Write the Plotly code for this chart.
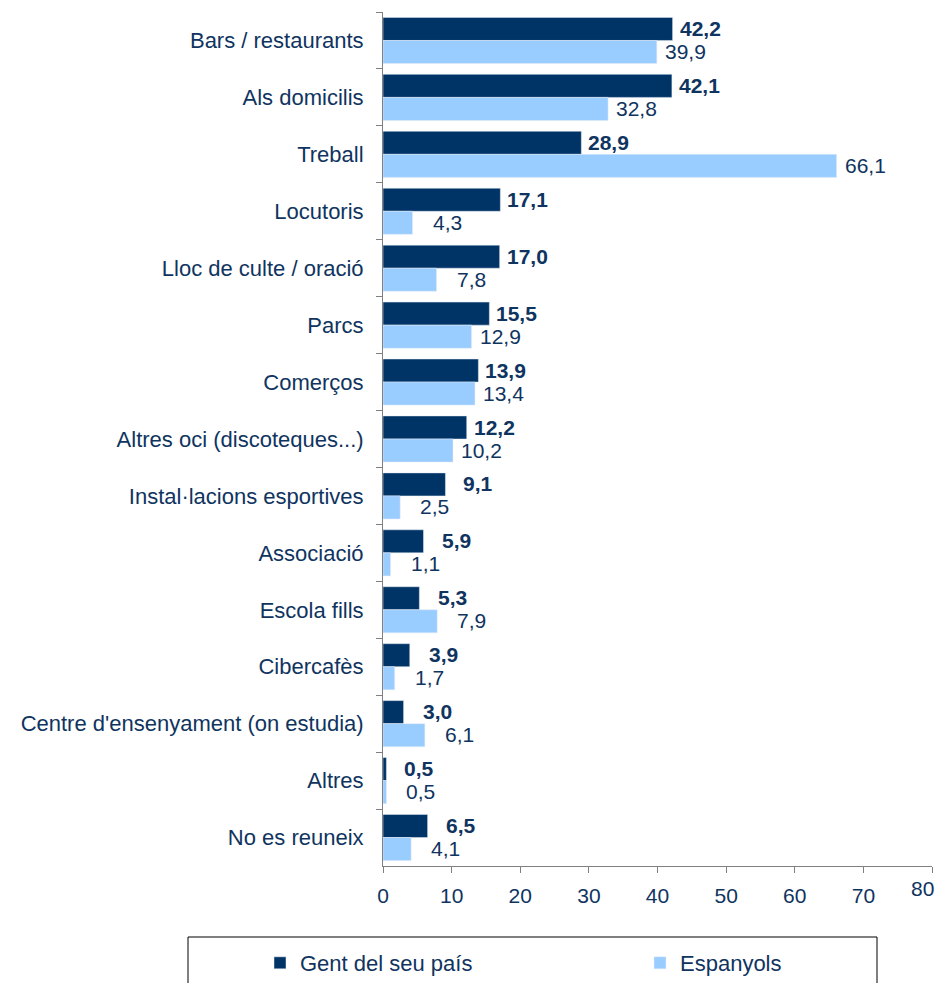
import plotly.graph_objects as go

categories = ["Bars / restaurants", "Als domicilis", "Treball", "Locutoris",
              "Lloc de culte / oració", "Parcs", "Comerços",
              "Altres oci (discoteques...)", "Instal·lacions esportives",
              "Associació", "Escola fills", "Cibercafès",
              "Centre d'ensenyament (on estudia)", "Altres", "No es reuneix"]
gent_pais = [42.2, 42.1, 28.9, 17.1, 17.0, 15.5, 13.9, 12.2, 9.1, 5.9, 5.3, 3.9, 3.0, 0.5, 6.5]
espanyols = [39.9, 32.8, 66.1, 4.3, 7.8, 12.9, 13.4, 10.2, 2.5, 1.1, 7.9, 1.7, 6.1, 0.5, 4.1]
x_ticks = [0, 10, 20, 30, 40, 50, 60, 70, 80]

DARK = "#003366"
LIGHT = "#99ccff"
TXT = "#0f3460"
FONT = "Liberation Sans"
FS = 22

# la pàgina té 8px de marge al body: la figura es fa més petita perquè hi càpiga
W, H = 928, 975
OFF = 8

fig = go.Figure()
fig.add_trace(go.Bar(y=categories, x=gent_pais, orientation="h", name="Gent del seu país",
                     marker_color=DARK, legend="legend"))
fig.add_trace(go.Bar(y=categories, x=espanyols, orientation="h", name="Espanyols",
                     marker_color=LIGHT, legend="legend2"))

# etiquetes de valor (coma decimal)
for cat, g, e in zip(categories, gent_pais, espanyols):
    fig.add_annotation(x=g, y=cat, text="<b>" + f"{g:.1f}".replace(".", ",") + "</b>",
                       showarrow=False, xanchor="right", xshift=50, yshift=12,
                       font=dict(family=FONT, size=21, color=TXT))
    fig.add_annotation(x=e, y=cat, text=f"{e:.1f}".replace(".", ","),
                       showarrow=False, xanchor="right", xshift=51, yshift=-11,
                       font=dict(family=FONT, size=21, color=TXT))

# l'última etiqueta de l'eix x, alineada a la dreta perquè no quedi tallada
fig.add_annotation(x=x_ticks[-1], y=0, yref="paper", text=str(x_ticks[-1]),
                   showarrow=False, xanchor="right", yanchor="top", xshift=4, yshift=-9,
                   font=dict(family=FONT, size=21, color=TXT))

# caixa de la llegenda
fig.add_shape(type="rect", xref="paper", yref="paper",
              x0=(188 - 383) / 549, x1=(877 - 383) / 549,
              y0=(866 - 937) / 854, y1=(866 - 995) / 854,
              line=dict(color="black", width=1), fillcolor="white", layer="below")

leg = dict(orientation="h", xref="container", yref="container",
           y=1 - (963 - OFF) / H, yanchor="middle", xanchor="left",
           font=dict(family=FONT, size=FS, color=TXT), bgcolor="rgba(0,0,0,0)")

fig.update_layout(
    width=W, height=H,
    margin=dict(l=383 - OFF, r=W - (932 - OFF), t=12 - OFF, b=H - (866 - OFF)),
    plot_bgcolor="white", paper_bgcolor="white",
    barmode="group", bargap=0.19, bargroupgap=0,
    font=dict(family=FONT, size=FS, color=TXT),
    showlegend=True,
    legend=dict(leg, x=(260 - OFF) / W),
    legend2=dict(leg, x=(640 - OFF) / W),
)
fig.update_xaxes(range=[0, 80], tickvals=x_ticks,
                 ticktext=[str(t) for t in x_ticks[:-1]] + [""],
                 showgrid=False, zeroline=False,
                 showline=True, linecolor="#808080", ticks="outside", ticklen=6,
                 tickcolor="#808080", automargin=False, ticklabelstandoff=5,
                 ticklabeloverflow="allow", tickfont=dict(size=21, color=TXT))
fig.update_yaxes(autorange="reversed", showgrid=False, showline=True, linecolor="#808080",
                 ticks="outside", ticklen=6, tickcolor="#808080", tickson="boundaries",
                 ticklabelstandoff=14, automargin=False, tickfont=dict(size=FS, color=TXT))

fig.write_html("out.html")
